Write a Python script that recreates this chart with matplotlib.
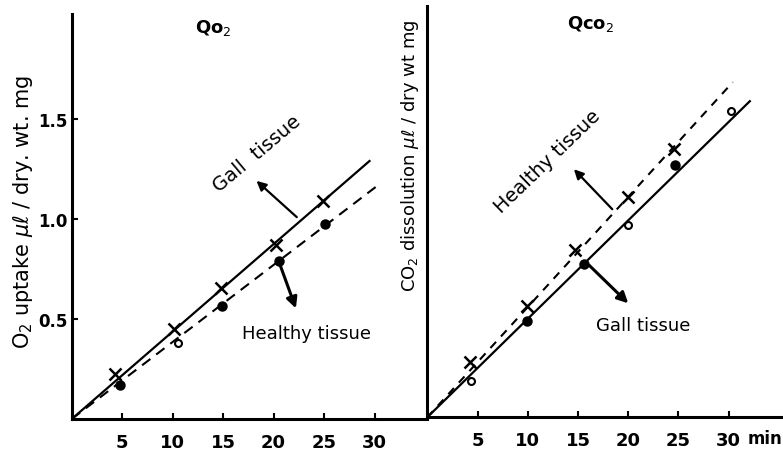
"""Qo2 / Qco2 of gall vs healthy tissue, two panels side by side -> out.png"""
import matplotlib
matplotlib.use("Agg")
import matplotlib.pyplot as plt

# left panel: O2 uptake
o2_gall_t = [4.3, 10.1, 14.8, 20.2, 24.9]
o2_gall_v = [0.225, 0.45, 0.653, 0.872, 1.09]
o2_gall_line = ([0, 29.5], [0, 1.29])
o2_heal_t = [4.8, 10.5, 14.9, 20.5, 25.1]
o2_heal_v = [0.17, 0.378, 0.567, 0.79, 0.975]
o2_heal_open = [False, True, False, False, False]
o2_heal_line = ([0, 30.5], [0, 1.175])

# right panel: CO2 dissolution
co2_heal_t = [4.25, 9.9, 14.7, 20.0, 24.6]
co2_heal_v = [0.275, 0.558, 0.838, 1.10, 1.34]
co2_heal_line = ([0, 30.4], [0, 1.675])
co2_gall_t = [4.4, 9.9, 15.6, 20.0, 24.7, 30.2]
co2_gall_v = [0.183, 0.483, 0.767, 0.963, 1.26, 1.53]
co2_gall_open = [True, False, False, True, False, True]
co2_gall_line = ([0, 32.1], [0, 1.58])

xticks = [5, 10, 15, 20, 25, 30]
yticks = [0.5, 1.0, 1.5]
ytick_labels = ["0.5", "1.0", "1.5"]

plt.rcParams["font.family"] = "DejaVu Sans"


def style(ax, xmax, ymax):
    ax.set_xlim(0, xmax)
    ax.set_ylim(0, ymax)
    for s in ("top", "right"):
        ax.spines[s].set_visible(False)
    for s in ("left", "bottom"):
        ax.spines[s].set_linewidth(2.2)
    ax.set_xticks(xticks)
    ax.set_xticklabels([str(t) for t in xticks], fontsize=13, fontweight="bold")
    ax.tick_params(axis="both", direction="in", length=4, width=1.5, pad=10)
    ax.patch.set_alpha(0)


def circles(ax, t, v, opens):
    for x, y, o in zip(t, v, opens):
        ax.plot([x], [y], "o", ms=6 if not o else 5, mfc="white" if o else "black",
                mec="black", mew=1.5, zorder=5)


fig = plt.figure(figsize=(7.83, 4.52), dpi=100)
ax1 = fig.add_axes([0.0916, 0.0708, 0.4538, 0.896])
ax2 = fig.add_axes([0.5457, 0.0746, 0.4543, 0.91])

# --- left: Qo2
style(ax1, 35.2, 2.025)
ax1.set_yticks(yticks)
ax1.set_yticklabels(ytick_labels, fontsize=12, fontweight="bold")
ax1.tick_params(axis="y", pad=3)
ax1.plot(*o2_gall_line, "-", color="black", lw=1.6)
ax1.plot(o2_gall_t, o2_gall_v, "x", color="black", ms=9, mew=1.8)
ax1.plot(*o2_heal_line, color="black", lw=1.5, ls=(0, (5, 3.5)))
circles(ax1, o2_heal_t, o2_heal_v, o2_heal_open)
ax1.text(18.3, 1.33, "Gall  tissue", rotation=40, fontsize=14, ha="center", va="center")
ax1.annotate("", xy=(18.1, 1.2), xytext=(22.5, 1.0),
             arrowprops=dict(arrowstyle="-|>", color="black", lw=1.6, mutation_scale=14))
ax1.annotate("", xy=(22.3, 0.54), xytext=(20.5, 0.79),
             arrowprops=dict(arrowstyle="-|>", color="black", lw=2.2, mutation_scale=16))
ax1.text(23.3, 0.43, "Healthy tissue", fontsize=13, ha="center", va="center")
ax1.text(14, 1.96, "Qo$_2$", fontsize=13, fontweight="bold", ha="center", va="center")
fig.text(0.03, 0.53, "O$_2$ uptake $\\mu\\ell$ / dry. wt. mg", rotation=90, fontsize=15,
         ha="center", va="center")

# --- right: Qco2
style(ax2, 35.4, 2.056)
ax2.set_yticks([])
ax2.plot(*co2_heal_line, color="black", lw=1.5, ls=(0, (4, 3.5)))
ax2.plot(co2_heal_t, co2_heal_v, "x", color="black", ms=8, mew=1.8)
ax2.plot(*co2_gall_line, "-", color="black", lw=1.6)
circles(ax2, co2_gall_t, co2_gall_v, co2_gall_open)
ax2.text(12.0, 1.28, "Healthy tissue", rotation=44, fontsize=14, ha="center", va="center")
ax2.annotate("", xy=(14.4, 1.25), xytext=(18.6, 1.03),
             arrowprops=dict(arrowstyle="-|>", color="black", lw=1.6, mutation_scale=14))
ax2.annotate("", xy=(20.2, 0.56), xytext=(15.9, 0.77),
             arrowprops=dict(arrowstyle="-|>", color="black", lw=2.2, mutation_scale=16))
ax2.text(21.5, 0.46, "Gall tissue", fontsize=13, ha="center", va="center")
ax2.text(16.3, 1.97, "Qco$_2$", fontsize=13, fontweight="bold", ha="center", va="center")
ax2.text(33.6, -0.105, "min", fontsize=12, fontweight="bold", ha="center", va="center",
         clip_on=False)
fig.text(0.523, 0.655, "CO$_2$ dissolution $\\mu\\ell$ / dry wt mg", rotation=90, fontsize=13,
         ha="center", va="center")

fig.savefig("out.png", dpi=100, facecolor="white")
